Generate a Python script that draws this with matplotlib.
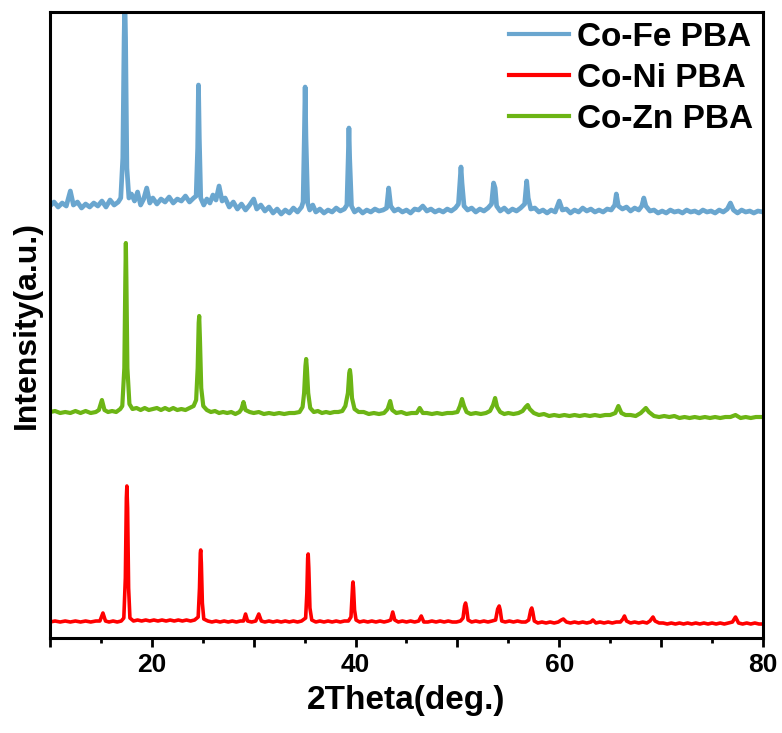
import matplotlib
matplotlib.use("Agg")
import matplotlib.pyplot as plt
from matplotlib.ticker import MultipleLocator, FuncFormatter

plt.rcParams['font.family'] = ['Liberation Sans', 'DejaVu Sans']
plt.rcParams['font.weight'] = 'bold'

# ---- data: (2theta, intensity a.u.) ----
fe_theta = [10.0, 10.4, 10.8, 11.2, 11.6, 12.0, 12.3, 12.7, 13.1, 13.5, 13.9, 14.3, 14.7, 15.1, 15.5, 15.9, 16.3, 16.7,
            16.95, 17.15, 17.28, 17.35, 17.42, 17.55, 17.75,
            18.0, 18.3, 18.6, 18.9, 19.2, 19.5, 19.8, 20.1, 20.5, 20.9, 21.3, 21.7, 22.1, 22.5, 22.9, 23.3, 23.7, 24.1,
            24.35, 24.5, 24.58, 24.66, 24.8,
            25.1, 25.4, 25.7, 26.0, 26.3, 26.6, 26.9, 27.2, 27.6, 28.0, 28.4, 28.8, 29.2, 29.6, 30.0, 30.3, 30.7, 31.1,
            31.5, 31.9, 32.3, 32.7, 33.1, 33.5, 33.9, 34.3, 34.7,
            34.85, 34.97, 35.05, 35.13, 35.3,
            35.5, 35.8, 36.1, 36.5, 36.9, 37.3, 37.7, 38.1, 38.5, 38.9,
            39.15, 39.28, 39.35, 39.42, 39.6,
            39.9, 40.3, 40.7, 41.1, 41.5, 41.9, 42.3, 42.7, 43.05, 43.25, 43.45, 43.8, 44.2, 44.6, 45.0, 45.4, 45.8,
            46.2, 46.6, 47.0, 47.4, 47.8, 48.2, 48.6, 49.0, 49.4, 49.8,
            50.1, 50.27, 50.35, 50.45, 50.65,
            51.0, 51.4, 51.8, 52.2, 52.6, 53.0, 53.35, 53.55, 53.7, 53.85, 54.2, 54.6, 55.0, 55.4, 55.8, 56.2, 56.6,
            56.8, 56.95, 57.2, 57.6, 58.0, 58.4, 58.8, 59.2, 59.6, 60.0, 60.3, 60.7, 61.1, 61.5, 61.9, 62.3, 62.7,
            63.1, 63.5, 63.9, 64.3, 64.7, 65.1, 65.45, 65.6, 65.8, 66.2, 66.6, 67.0, 67.4, 67.8, 68.1, 68.3, 68.5,
            68.9, 69.3, 69.7, 70.1, 70.5, 70.9, 71.3, 71.7, 72.1, 72.5, 72.9, 73.3, 73.7, 74.1, 74.5, 74.9, 75.3,
            75.7, 76.1, 76.5, 76.8, 77.1, 77.5, 77.9, 78.3, 78.7, 79.1, 79.5, 80.0]
fe_int = [432, 436, 431, 435, 432, 447, 433, 436, 430, 434, 431, 435, 432, 437, 431, 438, 433, 436,
          440, 480, 600, 640, 600, 470, 440,
          444, 437, 446, 433, 439, 450, 435, 440, 434, 439, 436, 441, 435, 439, 437, 442, 436, 440,
          442, 490, 553, 500, 440,
          433, 439, 435, 443, 438, 452, 437, 440, 431, 436, 429, 434, 428, 433, 439, 429, 433, 427,
          431, 425, 429, 424, 428, 425, 430, 426, 431,
          436, 500, 551, 500, 435,
          428, 433, 426, 429, 425, 428, 426, 430, 427, 429,
          433, 480, 510, 480, 432,
          426, 429, 425, 428, 426, 429, 427, 428, 430, 450, 432, 427, 429, 426, 428, 425, 429,
          428, 432, 427, 429, 426, 428, 426, 429, 427, 430,
          434, 460, 471, 455, 432,
          428, 430, 426, 429, 427, 430, 434, 455, 450, 432, 427, 430, 426, 429, 427, 430, 434,
          457, 440, 429, 430, 426, 428, 425, 428, 426, 437, 428, 429, 425, 428, 426, 430, 427,
          429, 426, 428, 426, 429, 428, 433, 444, 432, 429, 431, 427, 430, 428, 432, 440, 432,
          427, 428, 425, 427, 425, 428, 426, 427, 425, 428, 426, 427, 425, 428, 426, 427, 425,
          428, 426, 429, 435, 428, 425, 428, 426, 427, 425, 427, 426]

zn_theta = [10.0, 10.5, 11.0, 11.5, 12.0, 12.5, 13.0, 13.5, 14.0, 14.5, 14.8, 15.1, 15.35, 15.7, 16.1, 16.5, 16.9,
            17.1, 17.3, 17.4, 17.45, 17.5, 17.6, 17.8,
            18.1, 18.5, 18.9, 19.3, 19.7, 20.1, 20.5, 20.9, 21.3, 21.7, 22.1, 22.5, 22.9, 23.3, 23.7, 24.1,
            24.35, 24.5, 24.6, 24.65, 24.72, 24.85, 25.05,
            25.4, 25.8, 26.2, 26.6, 27.0, 27.4, 27.8, 28.2, 28.6, 28.8, 29.0, 29.2, 29.6, 30.0, 30.5, 31.0, 31.5,
            32.0, 32.5, 33.0, 33.5, 34.0, 34.5, 34.8,
            34.95, 35.08, 35.15, 35.22, 35.35, 35.55,
            35.9, 36.3, 36.7, 37.1, 37.5, 37.9, 38.3, 38.7, 39.0,
            39.25, 39.38, 39.45, 39.52, 39.65, 39.9,
            40.3, 40.8, 41.3, 41.8, 42.3, 42.8, 43.15, 43.4, 43.6, 44.0, 44.5, 45.0, 45.5, 46.0, 46.3, 46.6, 47.0,
            47.5, 48.0, 48.5, 49.0, 49.5, 50.0, 50.25, 50.45, 50.65, 50.9, 51.3, 51.8, 52.3, 52.8, 53.2, 53.5,
            53.7, 53.9, 54.2, 54.6, 55.0, 55.5, 56.0, 56.4, 56.7, 56.9, 57.1, 57.5, 58.0, 58.5, 59.0, 59.5, 60.0,
            60.5, 61.0, 61.5, 62.0, 62.5, 63.0, 63.5, 64.0, 64.5, 65.0, 65.5, 65.8, 66.1, 66.5, 67.0, 67.5, 68.0,
            68.3, 68.5, 68.8, 69.3, 69.8, 70.3, 70.8, 71.3, 71.8, 72.3, 72.8, 73.3, 73.8, 74.3, 74.8, 75.3, 75.8,
            76.3, 76.8, 77.3, 77.8, 78.3, 78.8, 79.3, 80.0]
zn_int = [226, 227, 225, 226, 225, 227, 225, 227, 225, 226, 228, 238, 228, 226, 227, 226, 229,
          232, 270, 360, 395, 360, 270, 234,
          229, 230, 228, 230, 228, 229, 230, 228, 230, 228, 230, 228, 229, 228, 230, 232,
          238, 270, 315, 322, 300, 250, 232,
          228, 226, 227, 225, 226, 225, 226, 224, 226, 229, 236, 228, 226, 225, 226, 224, 225,
          224, 225, 224, 225, 225, 226, 231,
          245, 272, 279, 270, 245, 230,
          226, 227, 225, 226, 225, 226, 226, 227, 232,
          245, 265, 268, 262, 240, 229,
          226, 226, 224, 225, 224, 225, 229, 237, 228, 225, 226, 224, 225, 225, 230, 225, 225,
          224, 225, 224, 225, 225, 226, 232, 239, 232, 226, 224, 225, 224, 225, 227, 233,
          240, 231, 226, 224, 225, 224, 225, 227, 231, 233, 229, 225, 223, 224, 222, 223, 222,
          223, 222, 223, 222, 223, 222, 223, 222, 223, 223, 225, 232, 225, 223, 223, 222, 225,
          228, 230, 226, 222, 221, 222, 221, 222, 220, 221, 220, 221, 220, 221, 220, 221, 220,
          221, 221, 223, 220, 221, 220, 221, 221]

ni_theta = [10.0, 10.5, 11.0, 11.5, 12.0, 12.5, 13.0, 13.5, 14.0, 14.5, 14.9, 15.2, 15.45, 15.8, 16.2, 16.6, 17.0, 17.25,
            17.4, 17.5, 17.55, 17.62, 17.72, 17.85,
            18.2, 18.6, 19.0, 19.4, 19.8, 20.2, 20.6, 21.0, 21.4, 21.8, 22.2, 22.6, 23.0, 23.4, 23.8, 24.2, 24.55,
            24.68, 24.76, 24.8, 24.86, 24.96, 25.1,
            25.5, 25.9, 26.3, 26.7, 27.1, 27.5, 27.9, 28.3, 28.7, 29.0, 29.2, 29.4, 29.8, 30.2, 30.5, 30.75, 31.1,
            31.5, 31.9, 32.3, 32.7, 33.1, 33.5, 33.9, 34.3, 34.7, 35.1,
            35.22, 35.3, 35.35, 35.41, 35.52, 35.7,
            36.1, 36.5, 36.9, 37.3, 37.7, 38.1, 38.5, 38.9, 39.3, 39.55,
            39.65, 39.72, 39.75, 39.8, 39.9, 40.05,
            40.4, 40.8, 41.2, 41.6, 42.0, 42.4, 42.8, 43.2, 43.45, 43.65, 43.85, 44.2, 44.6, 45.0, 45.4, 45.8, 46.2,
            46.45, 46.7, 47.1, 47.5, 47.9, 48.3, 48.7, 49.1, 49.5, 49.9, 50.3, 50.55, 50.7, 50.8, 50.9, 51.05,
            51.4, 51.8, 52.2, 52.6, 53.0, 53.4, 53.75, 53.95, 54.1, 54.2, 54.35, 54.7, 55.1, 55.5, 55.9, 56.3,
            56.7, 57.0, 57.2, 57.3, 57.4, 57.55, 57.9, 58.3, 58.7, 59.1, 59.5, 59.9, 60.2, 60.4, 60.7, 61.1, 61.5,
            61.9, 62.3, 62.7, 63.1, 63.3, 63.6, 64.0, 64.4, 64.8, 65.2, 65.6, 66.0, 66.25, 66.4, 66.6, 67.0, 67.4,
            67.8, 68.2, 68.6, 68.9, 69.2, 69.4, 69.8, 70.2, 70.6, 71.0, 71.4, 71.8, 72.2, 72.6, 73.0, 73.4, 73.8,
            74.2, 74.6, 75.0, 75.4, 75.8, 76.2, 76.6, 77.0, 77.3, 77.6, 78.0, 78.4, 78.8, 79.2, 79.6, 80.0]
ni_int = [16, 17, 16, 17, 16, 17, 16, 17, 16, 17, 17, 25, 17, 16, 17, 16, 17, 20,
          60, 140, 152, 130, 50, 20,
          17, 18, 17, 18, 17, 18, 17, 18, 17, 18, 17, 18, 17, 18, 17, 18, 21,
          50, 85, 88, 75, 35, 19,
          17, 16, 17, 16, 17, 16, 17, 16, 17, 17, 24, 17, 16, 17, 24, 17, 16,
          17, 16, 17, 16, 17, 16, 17, 16, 17, 20,
          45, 80, 84, 70, 30, 18,
          16, 17, 16, 17, 16, 17, 16, 17, 17, 21,
          40, 54, 56, 50, 28, 18,
          16, 17, 16, 17, 16, 17, 16, 17, 18, 26, 18, 16, 17, 16, 17, 16, 17,
          22, 16, 16, 17, 16, 17, 16, 17, 16, 16, 17, 20, 32, 35, 30, 18,
          16, 17, 16, 17, 16, 17, 18, 29, 32, 28, 17, 16, 17, 16, 17, 16,
          16, 18, 28, 30, 26, 17, 15, 16, 15, 16, 15, 16, 18, 19, 16, 15, 16,
          15, 16, 15, 16, 18, 15, 16, 15, 16, 15, 16, 16, 19, 22, 17, 15, 16,
          15, 16, 15, 17, 21, 17, 15, 15, 14, 15, 14, 15, 14, 15, 14, 15, 14,
          15, 14, 15, 14, 15, 14, 15, 16, 21, 15, 14, 15, 14, 15, 14, 14]

series_labels = ['Co-Fe PBA', 'Co-Ni PBA', 'Co-Zn PBA']
series_colors = ['#6AA6CF', '#FF0000', '#6CB515']
x_tick_labels = {20: '20', 40: '40', 60: '60', 80: '80'}

fig = plt.figure(figsize=(7.82, 7.33), dpi=100)
ax = fig.add_axes([0.0639, 0.1296, 0.9118, 0.854])

ax.plot(ni_theta, ni_int, color=series_colors[1], lw=2.6, label=series_labels[1], solid_joinstyle='round')
ax.plot(zn_theta, zn_int, color=series_colors[2], lw=3.0, label=series_labels[2], solid_joinstyle='round')
ax.plot(fe_theta, fe_int, color=series_colors[0], lw=3.4, label=series_labels[0], solid_joinstyle='round')

ax.set_xlim(10, 80)
ax.set_ylim(0, 626)
ax.set_yticks([])
ax.xaxis.set_major_locator(MultipleLocator(10))
ax.xaxis.set_minor_locator(MultipleLocator(5))
ax.xaxis.set_major_formatter(FuncFormatter(lambda v, p: x_tick_labels.get(int(round(v)), '')))
ax.tick_params(axis='x', which='major', direction='out', length=6.5, width=2, labelsize=19, pad=4)
ax.tick_params(axis='x', which='minor', direction='out', length=3.5, width=2)
for lab in ax.get_xticklabels():
    lab.set_fontweight('bold')
for sp in ax.spines.values():
    sp.set_linewidth(2.2)

ax.set_xlabel('2Theta(deg.)', fontsize=24, fontweight='bold', labelpad=6)
ax.set_ylabel('Intensity(a.u.)', fontsize=23, fontweight='bold', labelpad=6)

h, l = ax.get_legend_handles_labels()
order = [l.index(s) for s in series_labels]
leg = ax.legend([h[i] for i in order], [l[i] for i in order], loc='upper right', frameon=False,
                prop={'size': 24, 'weight': 'bold'}, handlelength=1.8, handletextpad=0.25,
                labelspacing=0.3, borderaxespad=0.2, borderpad=0.1)
for line in leg.get_lines():
    line.set_linewidth(3)

fig.savefig('out.png', dpi=100)
